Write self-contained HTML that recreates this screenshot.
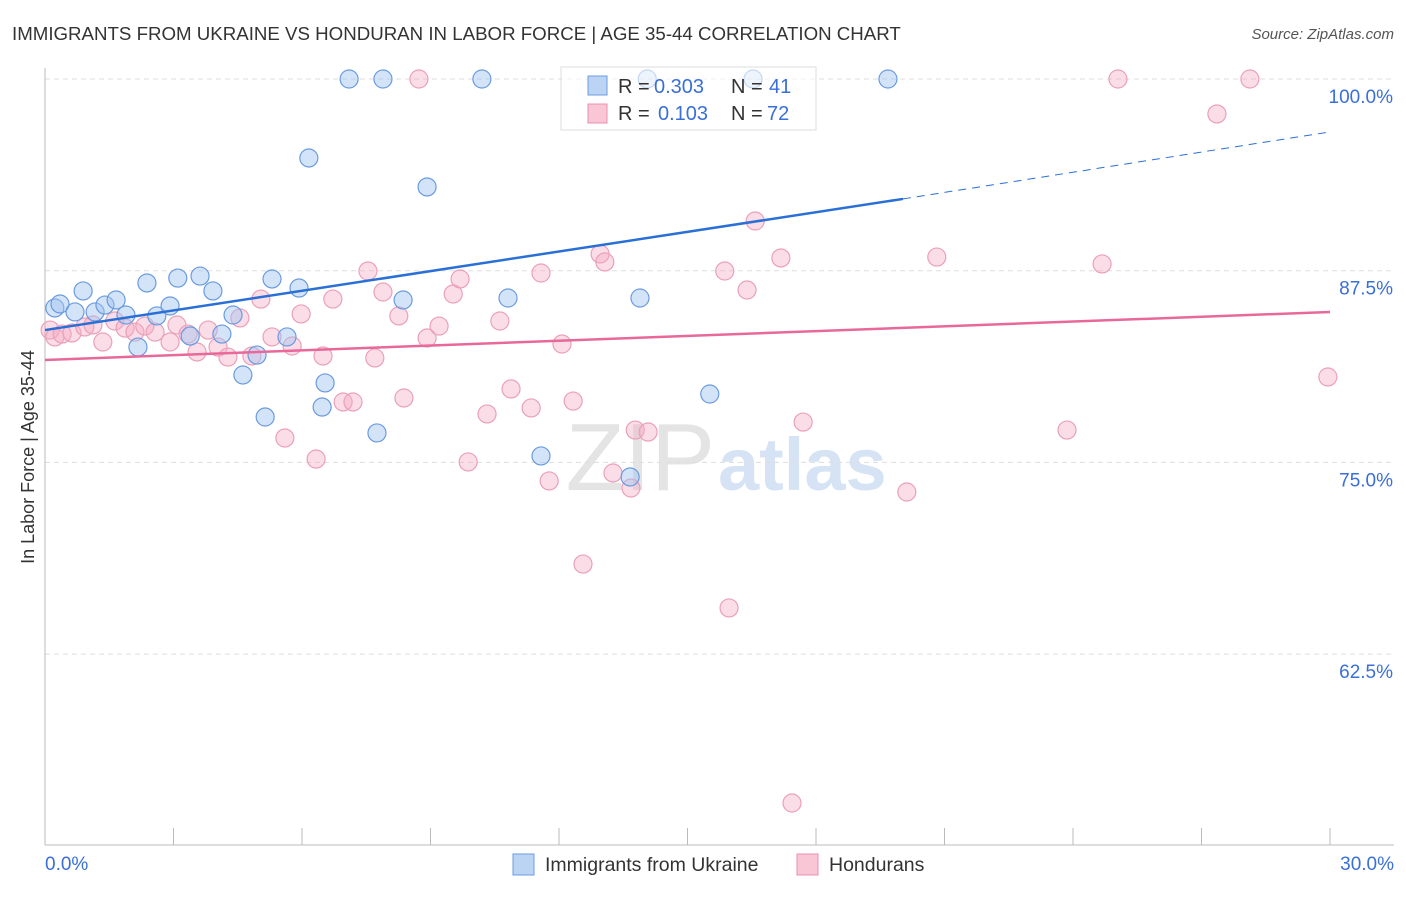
<!DOCTYPE html>
<html><head><meta charset="utf-8"><style>
body{margin:0;background:#fff;font-family:"Liberation Sans",sans-serif}
svg text{font-family:"Liberation Sans",sans-serif}
</style></head><body>
<svg id="chart" width="1406" height="892" viewBox="0 0 1406 892" xmlns="http://www.w3.org/2000/svg">
<text x="12" y="40" font-size="18.7" fill="#333">IMMIGRANTS FROM UKRAINE VS HONDURAN IN LABOR FORCE | AGE 35-44 CORRELATION CHART</text>
<text x="1394" y="39" font-size="15" fill="#555" font-style="italic" text-anchor="end">Source: ZipAtlas.com</text>
<text x="715" y="490" font-size="96" fill="#e4e4e4" text-anchor="end" font-family="Liberation Serif">ZIP</text>
<text x="718" y="490" font-size="74" fill="#d6e3f5" font-weight="bold">atlas</text>
<g id="grid"></g><g id="axes"></g><g id="pink"></g><g id="blue"></g><g id="lines"></g>
<text transform="translate(34,457) rotate(-90)" font-size="18" fill="#333" text-anchor="middle">In Labor Force | Age 35-44</text>
<g>
<rect x="561" y="67" width="255" height="63" fill="#fff" fill-opacity="0.6" stroke="#ddd"/>
<rect x="588" y="76" width="19" height="19" fill="#bcd4f4" stroke="#6a9be0"/>
<rect x="588" y="104" width="19" height="19" fill="#f9c6d6" stroke="#e890ae"/>
<text x="618" y="93" font-size="20" fill="#333">R =</text>
<text x="654" y="93" font-size="20" fill="#3a6fd8">0.303</text>
<text x="731" y="93" font-size="20" fill="#333">N =</text>
<text x="769" y="93" font-size="20" fill="#3a6fd8">41</text>
<text x="618" y="120" font-size="20" fill="#333">R =</text>
<text x="658" y="120" font-size="20" fill="#3a6fd8">0.103</text>
<text x="731" y="120" font-size="20" fill="#333">N =</text>
<text x="767" y="120" font-size="20" fill="#3a6fd8">72</text>
</g>
<g>
<rect x="513" y="854" width="21" height="21" fill="#bcd4f4" stroke="#6a9be0"/>
<text x="545" y="871" font-size="19.5" fill="#333">Immigrants from Ukraine</text>
<rect x="797" y="854" width="21" height="21" fill="#f9c6d6" stroke="#e890ae"/>
<text x="829" y="871" font-size="19.5" fill="#333">Hondurans</text>
</g>
</svg>
<script>
const yTicks=[100,87.5,75,62.5];
const yTickLabels=["100.0%","87.5%","75.0%","62.5%"];
const xTickLabels=["0.0%","30.0%"];
const blueX=[0.23,0.35,0.70,0.89,1.17,1.40,1.66,1.89,2.17,2.38,2.61,2.92,3.10,3.39,3.62,3.92,4.13,4.39,4.62,4.95,5.14,5.30,5.65,5.93,6.16,6.47,6.54,7.10,7.75,7.89,8.36,8.92,10.20,10.81,11.58,13.66,13.89,14.06,15.52,16.53,19.68];
const blueY=[85.07,85.33,84.81,86.18,84.81,85.26,85.59,84.61,82.52,86.70,84.55,85.20,87.02,83.24,87.15,86.18,83.37,84.61,80.70,82.00,77.96,86.96,83.18,86.37,94.85,78.61,80.18,100,76.92,100,85.59,92.96,100,85.72,75.42,74.05,85.72,100,79.46,100,100];
const pinkX=[0.12,0.23,0.40,0.63,0.93,1.12,1.35,1.63,1.87,2.10,2.33,2.57,2.92,3.08,3.34,3.55,3.81,4.04,4.27,4.55,4.83,5.04,5.30,5.60,5.77,5.98,6.33,6.49,6.72,6.96,7.19,7.54,7.70,7.89,8.26,8.38,8.73,8.92,9.20,9.53,9.69,9.88,10.32,10.62,10.88,11.35,11.58,11.77,12.07,12.33,12.56,12.96,13.07,13.26,13.68,13.78,14.08,15.87,15.97,16.39,16.58,17.18,17.44,17.70,20.12,20.82,23.86,24.68,25.05,27.36,28.13,29.95];
const pinkY=[83.63,83.18,83.37,83.44,83.83,83.96,82.85,84.22,83.76,83.50,83.89,83.50,82.85,83.96,83.37,82.20,83.63,82.52,81.87,84.42,81.94,85.65,83.18,76.59,82.59,84.68,75.22,81.94,85.65,78.94,78.94,87.48,81.81,86.11,84.55,79.20,100,83.11,83.89,85.98,86.96,75.03,78.16,84.22,79.79,78.55,87.35,73.79,82.72,79.00,68.37,88.59,88.07,74.31,73.33,77.11,76.98,87.48,65.51,86.24,90.74,88.33,52.79,77.63,73.07,88.39,77.11,87.94,100,97.72,100,80.57];
const blueTrend=[83.63,92.18,96.55]; const blueTrendX=[0,20.03,30];
const pinkTrend=[81.68,84.81]; const pinkTrendX=[0,30];
const NS="http://www.w3.org/2000/svg";
const sx=v=>45+v/30*1285;
const sy=v=>79+(100-v)/12.5*191.7;
function mk(p,tag,a){const e=document.createElementNS(NS,tag);for(const k in a)e.setAttribute(k,a[k]);const par=document.getElementById(p);par.appendChild(e);return e;}
yTicks.forEach((t,i)=>{
 let g=mk('grid','line',{x1:45,x2:1394,y1:sy(t),y2:sy(t),stroke:'#ddd','stroke-dasharray':'5,4'});
 
 
 let l=mk('axes','text',{x:1393,y:sy(t)+24,'font-size':19,fill:'#3a6fd8','text-anchor':'end'});l.textContent=yTickLabels[i];
 
 
});
let ax=mk('axes','line',{x1:45,x2:45,y1:68,y2:845,stroke:'#bbb'});


let bx=mk('axes','line',{x1:45,x2:1394,y1:845,y2:845,stroke:'#bbb'});


for(let i=0;i<=10;i++){let t=mk('axes','line',{x1:sx(i*3),x2:sx(i*3),y1:828,y2:845,stroke:'#bbb'});
 
 }
[[0,'start',45],[1,'end',1394]].forEach(([i,a,x])=>{let t=mk('axes','text',{x:x,y:870,'font-size':19,fill:'#3a6fd8','text-anchor':a});t.textContent=xTickLabels[i];
 
 });
pinkX.forEach((x,i)=>{let c=mk('pink','circle',{cx:sx(x),cy:sy(pinkY[i]),r:9,fill:'rgba(245,170,195,0.4)',stroke:'#eba0ba','stroke-width':1.2});
 
 });
blueX.forEach((x,i)=>{let c=mk('blue','circle',{cx:sx(x),cy:sy(blueY[i]),r:9,fill:'rgba(160,195,240,0.45)',stroke:'#6a9be0','stroke-width':1.2});
 
 });
let b1=mk('lines','line',{x1:sx(blueTrendX[0]),y1:sy(blueTrend[0]),x2:sx(blueTrendX[1]),y2:sy(blueTrend[1]),stroke:'#2a6fd6','stroke-width':2.5});


let b2=mk('lines','line',{x1:sx(blueTrendX[1]),y1:sy(blueTrend[1]),x2:sx(blueTrendX[2]),y2:sy(blueTrend[2]),stroke:'#2a6fd6','stroke-width':1,'stroke-dasharray':'8,6'});


let p1=mk('lines','line',{x1:sx(pinkTrendX[0]),y1:sy(pinkTrend[0]),x2:sx(pinkTrendX[1]),y2:sy(pinkTrend[1]),stroke:'#e8689a','stroke-width':2.5});


</script>
</body></html>
